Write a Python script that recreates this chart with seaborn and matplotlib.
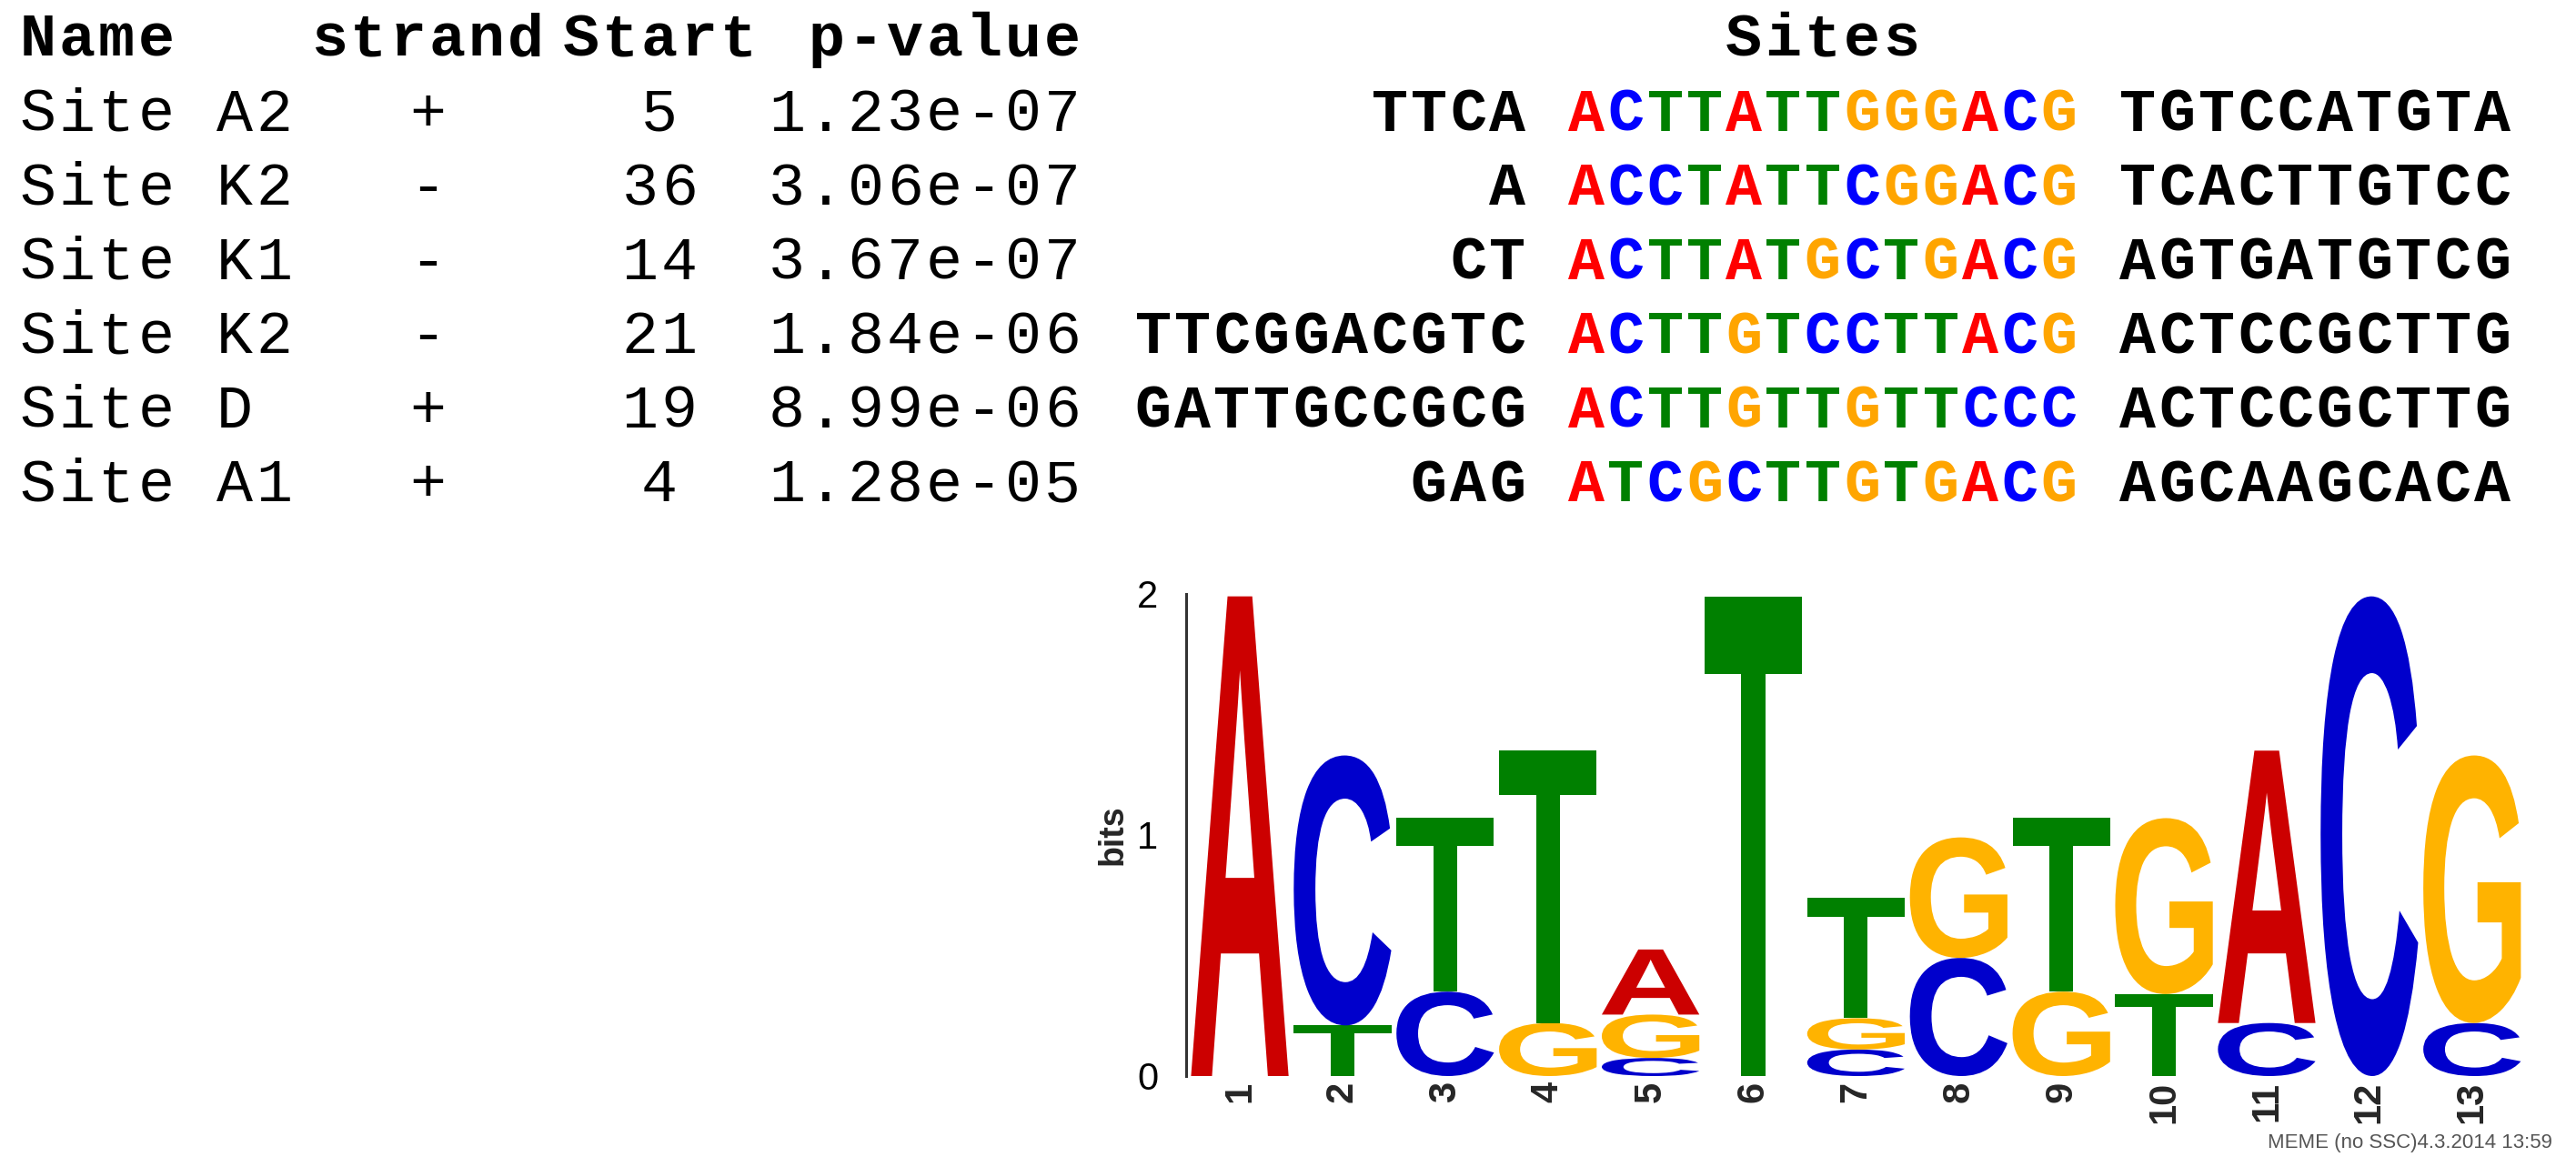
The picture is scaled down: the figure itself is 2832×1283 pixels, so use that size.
import numpy as np
import pandas as pd
import seaborn as sns
import matplotlib.pyplot as plt
from matplotlib.textpath import TextPath
from matplotlib.patches import PathPatch
from matplotlib.font_manager import FontProperties
from matplotlib.transforms import Affine2D

# --- sites table data ---
names = ["Site A2", "Site K2", "Site K1", "Site K2", "Site D", "Site A1"]
strands = ["+", "-", "-", "-", "+", "+"]
starts = [5, 36, 14, 21, 19, 4]
pvalues = ["1.23e-07", "3.06e-07", "3.67e-07", "1.84e-06", "8.99e-06", "1.28e-05"]
left_flank = ["TTCA", "A", "CT", "TTCGGACGTC", "GATTGCCGCG", "GAG"]
site_core = ["ACTTATTGGGACG", "ACCTATTCGGACG", "ACTTATGCTGACG",
             "ACTTGTCCTTACG", "ACTTGTTGTTCCC", "ATCGCTTGTGACG"]
right_flank = ["TGTCCATGTA", "TCACTTGTCC", "AGTGATGTCG",
               "ACTCCGCTTG", "ACTCCGCTTG", "AGCAAGCACA"]

# --- logo data (bits per base at each motif position) ---
positions = list(range(1, 14))
bits_A = [1.99, 0, 0, 0, 0.27, 0, 0, 0, 0, 0, 1.13, 0, 0]
bits_C = [0, 1.12, 0.35, 0, 0.075, 0, 0.11, 0.49, 0, 0, 0.22, 1.99, 0.22]
bits_G = [0, 0, 0, 0.22, 0.18, 0, 0.13, 0.50, 0.35, 0.73, 0, 0, 1.11]
bits_T = [0, 0.21, 0.72, 1.13, 0, 1.99, 0.50, 0, 0.72, 0.34, 0, 0, 0]

site_colors = {"A": "#FF0000", "C": "#0000FF", "G": "#FFA500", "T": "#008000"}
logo_colors = {"A": "#CC0000", "C": "#0000CC", "G": "#FFB300", "T": "#008000"}

logo_df = pd.DataFrame({"A": bits_A, "C": bits_C, "G": bits_G, "T": bits_T},
                       index=positions)

sns.set_style("white")
plt.rcParams["font.family"] = ["Liberation Sans", "DejaVu Sans"]

W, H = 2832, 1283
fig = plt.figure(figsize=(W / 100, H / 100), dpi=100)

# overlay axes in pixel coordinates for the text table
tx = fig.add_axes([0, 0, 1, 1])
tx.set_xlim(0, W)
tx.set_ylim(H, 0)
tx.axis("off")

PITCH = 43.3
MONO = "Liberation Mono"
FS = 48


def mono(x0, y, s, weight="normal", colors=None):
    # put a monospace string char by char, x0 = centre of first char cell
    for j, ch in enumerate(s):
        if ch == " ":
            continue
        c = colors[ch] if colors else "black"
        tx.text(x0 + j * PITCH, y, ch, ha="center", va="baseline",
                fontsize=FS, family=MONO, fontweight=weight, color=c)


head_y = 61
row_y = [144 + 81.4 * i for i in range(len(names))]

# headers
mono(41.5, head_y, "Name", "bold")
mono(470 - 2.5 * PITCH, head_y, "strand", "bold")
mono(725 - 2 * PITCH, head_y, "Start", "bold")
mono(1168 - 6 * PITCH, head_y, "p-value", "bold")
core0 = 1744
mono(core0 + 6 * PITCH - 2 * PITCH, head_y, "Sites", "bold")

for i, y in enumerate(row_y):
    mono(41.5, y, names[i])
    mono(470, y, strands[i])
    s = str(starts[i])
    mono(725 - (len(s) - 1) / 2 * PITCH, y, s)
    p = pvalues[i]
    mono(1168 - (len(p) - 1) * PITCH, y, p)
    lf = left_flank[i]
    mono(core0 - (len(lf) + 1) * PITCH, y, lf, "bold")
    mono(core0, y, site_core[i], "bold", site_colors)
    mono(core0 + 14 * PITCH, y, right_flank[i], "bold")

# --- sequence logo ---
ax = fig.add_axes([1304 / W, 1 - 1183 / H, (2790 - 1304) / W, (1183 - 653) / H])
ax.set_xlim(0.477, 13.64)
ax.set_ylim(0, 2)

fp = FontProperties(family="Liberation Sans", weight="bold")


def draw_letter(ch, x, y0, h, w=0.95):
    tp = TextPath((0, 0), ch, size=1, prop=fp)
    bb = tp.get_extents()
    tr = (Affine2D().translate(-bb.x0, -bb.y0)
          .scale(w / bb.width, h / bb.height)
          .translate(x - w / 2, y0))
    ax.add_patch(PathPatch(tr.transform_path(tp), facecolor=logo_colors[ch],
                           edgecolor="none", clip_on=False))


for pos, row in logo_df.iterrows():
    y0 = 0
    for base, h in row.sort_values().items():
        if h <= 0:
            continue
        draw_letter(base, pos, y0, h)
        y0 += h

sns.despine(ax=ax, bottom=True)
ax.spines["left"].set_linewidth(2.2)
ax.spines["left"].set_color("#333333")
ax.set_yticks([0, 1, 2])
ax.set_yticklabels(["0", "1", "2"], fontsize=30)
ax.tick_params(axis="y", length=19, width=2.2, color="#333333", pad=3,
               labelcolor="black")
ax.set_xticks(positions)
ax.set_xticklabels([str(p) for p in positions], rotation=90,
                   fontsize=30, fontweight="bold")
ax.tick_params(axis="x", length=0, pad=4)
ax.set_ylabel("bits", fontsize=27, fontweight="bold", labelpad=6)
ax.grid(False)

fig.text(2806 / W, 1 - 1262 / H, "MEME (no SSC)4.3.2014 13:59", ha="right",
         va="baseline", fontsize=16, color="#555555")

fig.savefig("out.png", dpi=100)
